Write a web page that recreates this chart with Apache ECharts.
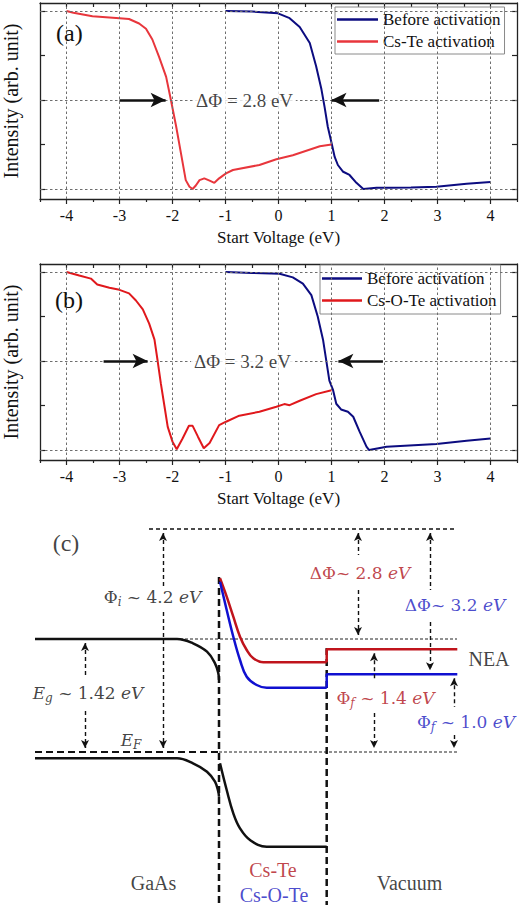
<!DOCTYPE html>
<html>
<head>
<meta charset="utf-8">
<script src="https://cdn.jsdelivr.net/npm/echarts@6/dist/echarts.min.js"></script>
<style>html,body{margin:0;padding:0;background:#fff}#c{width:520px;height:905px}</style>
</head>
<body>
<div id="c"></div>
<script>
// ---------- Panel (a) data ----------
const voltA_before = [-1.0, -0.5, -0.01, 0.21, 0.40, 0.59, 0.71, 0.81, 0.87, 0.93, 1.0, 1.06, 1.12, 1.22, 1.34, 1.47, 1.6, 1.85, 2.1, 2.5, 2.98, 3.55, 4.0];
const intA_before  = [1.0, 0.997, 0.987, 0.96, 0.91, 0.82, 0.69, 0.56, 0.46, 0.35, 0.26, 0.18, 0.135, 0.097, 0.079, 0.035, 0.0, 0.007, 0.007, 0.008, 0.013, 0.03, 0.04];
const voltA_csTe = [-4.0, -3.87, -3.51, -3.0, -2.82, -2.63, -2.5, -2.38, -2.25, -2.12, -2.03, -1.93, -1.84, -1.75, -1.68, -1.62, -1.56, -1.49, -1.40, -1.30, -1.21, -1.12, -0.99, -0.86, -0.36, -0.04, 0.27, 0.78, 1.0];
const intA_csTe  = [1.0, 0.99, 0.97, 0.96, 0.955, 0.93, 0.90, 0.84, 0.74, 0.63, 0.50, 0.35, 0.20, 0.05, 0.013, 0.0, 0.02, 0.05, 0.06, 0.047, 0.035, 0.06, 0.088, 0.107, 0.135, 0.167, 0.19, 0.24, 0.25];

// ---------- Panel (b) data ----------
const voltB_before = [-1.0, -0.5, 0.02, 0.27, 0.46, 0.62, 0.74, 0.84, 0.9, 0.96, 1.03, 1.09, 1.18, 1.31, 1.41, 1.53, 1.66, 1.71, 2.04, 2.98, 3.55, 4.0];
const intB_before  = [1.0, 0.995, 0.99, 0.97, 0.935, 0.87, 0.75, 0.62, 0.505, 0.39, 0.336, 0.26, 0.228, 0.215, 0.187, 0.103, 0.019, 0.0, 0.019, 0.034, 0.052, 0.065];
const voltB_csOTe = [-4.0, -3.76, -3.54, -3.42, -3.19, -3.0, -2.82, -2.69, -2.56, -2.44, -2.34, -2.28, -2.22, -2.15, -2.09, -2.0, -1.92, -1.81, -1.69, -1.62, -1.52, -1.41, -1.30, -1.12, -0.99, -0.74, -0.36, -0.04, 0.11, 0.21, 0.40, 0.71, 1.0];
const intB_csOTe  = [1.0, 0.98, 0.963, 0.93, 0.912, 0.90, 0.88, 0.84, 0.79, 0.71, 0.62, 0.5, 0.374, 0.243, 0.13, 0.047, 0.004, 0.065, 0.136, 0.136, 0.075, 0.01, 0.04, 0.14, 0.159, 0.193, 0.215, 0.243, 0.258, 0.252, 0.277, 0.314, 0.336];

// ---------- Axis ticks ----------
const xMajorTicks = [-4, -3, -2, -1, 0, 1, 2, 3, 4];
const xMinorTicks = [-4.5, -3.5, -2.5, -1.5, -0.5, 0.5, 1.5, 2.5, 3.5, 4.5];
const xTopTicks = [-4, -3.5, -3, -2.5, -2, -1.5, -1, -0.5, 0, 0.5, 1, 1.5, 2, 2.5, 3, 3.5, 4];
const yTicks = [0, 0.25, 0.5, 0.75, 1];
const xGridValues = [-4, -3, -2, -1, 0, 1, 2, 3, 4];
const yGridValues = [0, 0.5, 1];

// ---------- Annotations (a),(b) ----------
const deltaA = {text: 'ΔΦ = 2.8 eV', x: -0.64, y: 0.5, left: [-3.0, -2.13], right: [1.9, 1.0]};
const deltaB = {text: 'ΔΦ = 3.2 eV', x: -0.68, y: 0.5, left: [-3.3, -2.47], right: [1.97, 1.13]};

// ---------- Panel (c) band diagram (position units, energy units; E_F = 0) ----------
const cbGaAs_x = [3.5, 17.0, 17.7, 19.3, 20.7, 21.5, 21.83, 21.9];
const cbGaAs_E = [11.3, 11.3, 11.3, 10.87, 10.03, 8.87, 7.87, 7.2];
const vbGaAs_x = [3.5, 17.0, 17.7, 19.3, 20.7, 21.5, 21.83, 21.9];
const vbGaAs_E = [-0.63, -0.63, -0.63, -1.13, -1.97, -2.97, -3.97, -4.47];
const vbLayer_x = [22.0, 22.67, 23.33, 24.0, 25.0, 26.67, 32.67];
const vbLayer_E = [-1.13, -3.8, -6.13, -7.63, -8.8, -9.47, -9.47];
const csTeCurve_x = [22.0, 22.67, 23.33, 24.0, 24.67, 25.33, 26.33, 32.67];
const csTeCurve_E = [17.37, 15.53, 13.53, 11.53, 10.2, 9.37, 8.97, 8.97];
const csTeStep_x = [32.67, 32.67, 45.73];
const csTeStep_E = [8.97, 10.27, 10.27];
const csOTeCurve_x = [22.0, 22.67, 23.33, 24.0, 24.67, 25.67, 26.67, 32.67];
const csOTeCurve_E = [17.03, 14.2, 11.53, 9.2, 7.53, 6.7, 6.43, 6.43];
const csOTeStep_x = [32.67, 32.67, 45.73];
const csOTeStep_E = [6.43, 7.77, 7.77];
const vacuumLevel = {x: [14.9, 45.7], E: 22.3};
const cbRefLevel = {x: [18.0, 45.7], E: 11.3};
const fermiThick = {x: [3.5, 21.9], E: 0};
const fermiThin = {x: [21.9, 45.7], E: 0};
const interface1 = {x: 21.9, E: [17.5, -15.3]};
const interface2 = {x: 32.67, E: [10.4, -15.3]};
// arrows: x, [top seg start, top seg end], [bottom seg start, bottom seg end]
const arrowX   = [16.3, 8.5, 35.8, 43.0, 37.4, 45.4];
const arrowTop = [[21.9, 16.4], [10.9, 7.4], [21.9, 19.7], [21.9, 16.2], [9.87, 7.2], [7.37, 4.5]];
const arrowBot = [[14.0, 0.4], [4.1, 0.4], [16.2, 11.7], [13.0, 8.17], [3.9, 0.4], [1.7, 0.4]];
// labels
const labelText = [
  '{u|Φ}{s|i}{u| ~ 4.2 }{i|eV}',
  '{i|E}{s|g}{u| ~ 1.42 }{i|eV}',
  '{i|E}{s|F}',
  '{u|ΔΦ~ 2.8 }{i|eV}',
  '{u|ΔΦ~ 3.2 }{i|eV}',
  '{t|NEA}',
  '{u|Φ}{s|f}{u| ~ 1.4 }{i|eV}',
  '{u|Φ}{s|f}{u| ~ 1.0 }{i|eV}',
  '{t|GaAs}',
  '{t|Cs-Te}',
  '{t|Cs-O-Te}',
  '{t|Vacuum}',
  '{p|(c)}'
];
const labelX = [15.25, 8.8, 13.1, 36.0, 45.5, 48.9, 38.55, 46.6, 15.35, 27.3, 27.4, 40.95, 6.6];
const labelE = [15.5, 5.9, 1.2, 17.9, 14.7, 9.3, 5.4, 3.0, -13.1, -11.8, -14.3, -13.1, 20.9];
const labelColor = ['#111', '#111', '#111', '#b0141c', '#1c1cc0', '#111', '#b0141c', '#1c1cc0', '#111', '#b0141c', '#1c1cc0', '#111', '#111'];

// ---------- Styles ----------
const SERIF = "'Liberation Serif', 'Times New Roman', serif";
const MATH = "'DejaVu Serif', serif";
const NAVY = '#0c0c80';
const RED_A = '#e8363c';
const RED_B = '#e0181c';
const AX = '#222';

const zip = (xs, ys) => xs.map((v, i) => [v, ys[i]]);
const zipC = (xs, E) => xs.map((v) => [v, E]);

function panelAxes(g) {
  const line = {show: true, onZero: false, lineStyle: {color: AX, width: 1.3}};
  const xs = [
    {gridIndex: g, type: 'value', min: -4.5, max: 4.5, position: 'bottom',
     axisLine: line,
     axisTick: {show: true, inside: false, length: 5, customValues: xMajorTicks, lineStyle: {color: AX, width: 1.2}},
     axisLabel: {show: true, customValues: xMajorTicks, margin: 8, color: '#111', fontFamily: SERIF, fontSize: 16},
     splitLine: {show: false},
     name: 'Start Voltage (eV)', nameLocation: 'middle', nameGap: 30,
     nameTextStyle: {color: '#111', fontFamily: SERIF, fontSize: 17}},
    {gridIndex: g, type: 'value', min: -4.5, max: 4.5, position: 'bottom',
     axisLine: {show: false, onZero: false},
     axisTick: {show: true, inside: false, length: 3, customValues: xMinorTicks, lineStyle: {color: AX, width: 1.2}},
     axisLabel: {show: false}, splitLine: {show: false}},
    {gridIndex: g, type: 'value', min: -4.5, max: 4.5, position: 'top',
     axisLine: line,
     axisTick: {show: true, inside: true, length: 4, customValues: xTopTicks, lineStyle: {color: AX, width: 1.2}},
     axisLabel: {show: false}, splitLine: {show: false}}
  ];
  const ys = [
    {gridIndex: g, type: 'value', min: -0.056, max: 1.045, position: 'left',
     axisLine: line,
     axisTick: {show: true, inside: true, length: 5, customValues: yTicks, lineStyle: {color: AX, width: 1.2}},
     axisLabel: {show: false}, splitLine: {show: false},
     name: 'Intensity (arb. unit)', nameLocation: 'middle', nameGap: 19, nameRotate: 90,
     nameTextStyle: {color: '#111', fontFamily: SERIF, fontSize: 20}},
    {gridIndex: g, type: 'value', min: -0.056, max: 1.045, position: 'right',
     axisLine: line,
     axisTick: {show: true, inside: true, length: 5, customValues: yTicks, lineStyle: {color: AX, width: 1.2}},
     axisLabel: {show: false}, splitLine: {show: false}}
  ];
  return {xs, ys};
}

const pa = panelAxes(0), pb = panelAxes(1);

function gridSeries(xi, yi) {
  return {
    type: 'line', xAxisIndex: xi, yAxisIndex: yi, data: [], silent: true, z: 1,
    markLine: {
      silent: true, symbol: ['none', 'none'], label: {show: false}, animation: false,
      lineStyle: {color: '#6e6e6e', type: [2.5, 2.5], width: 1},
      emphasis: {disabled: true},
      data: xGridValues.map(v => ({xAxis: v})).concat(yGridValues.map(v => ({yAxis: v})))
    }
  };
}

function annotSeries(xi, yi, d) {
  return {
    type: 'scatter', xAxisIndex: xi, yAxisIndex: yi, silent: true, z: 5,
    symbolSize: 0,
    data: [{value: [d.x, d.y], label: {show: true, position: 'inside', formatter: d.text,
      color: '#111', fontFamily: SERIF, fontSize: 19, backgroundColor: '#fff', padding: [1, 3]}}],
    markLine: {
      silent: true, symbol: ['none', 'arrow'], symbolSize: [11, 15], label: {show: false},
      lineStyle: {color: '#111', width: 2.5, type: 'solid'}, animation: false,
      emphasis: {disabled: true},
      data: [
        [{coord: [d.left[0], d.y]}, {coord: [d.left[1], d.y]}],
        [{coord: [d.right[0], d.y]}, {coord: [d.right[1], d.y]}]
      ]
    }
  };
}

function curve(name, xi, yi, data, color, w) {
  return {name, type: 'line', xAxisIndex: xi, yAxisIndex: yi, data, symbol: 'none',
    showSymbol: false, smooth: false, z: 3, lineStyle: {color, width: w || 2}, itemStyle: {color}};
}

// Panel c helpers (xAxis 6, yAxis 4)
function cLine(data, color, width, type, smooth) {
  return {type: 'line', xAxisIndex: 6, yAxisIndex: 4, data, symbol: 'none', showSymbol: false,
    smooth: smooth || false, silent: true, z: 3,
    lineStyle: {color, width, type: type || 'solid'}};
}

const arrowData = [];
arrowX.forEach((x, i) => {
  arrowData.push([{coord: [x, arrowTop[i][0]], symbol: 'arrow'}, {coord: [x, arrowTop[i][1]], symbol: 'none'}]);
  arrowData.push([{coord: [x, arrowBot[i][0]], symbol: 'none'}, {coord: [x, arrowBot[i][1]], symbol: 'arrow'}]);
});

const mathRich = {
  u: {fontFamily: MATH, fontSize: 17},
  i: {fontFamily: MATH, fontSize: 17, fontStyle: 'italic'},
  s: {fontFamily: MATH, fontSize: 12, fontStyle: 'italic', padding: [10, 0, 0, 0]},
  t: {fontFamily: SERIF, fontSize: 20},
  p: {fontFamily: SERIF, fontSize: 24}
};

const labelData = labelText.map((t, i) => ({
  value: [labelX[i], labelE[i]],
  label: {show: true, position: 'inside', formatter: t, color: labelColor[i], rich: mathRich}
}));

const legendBase = {
  orient: 'vertical', itemWidth: 41, itemHeight: 2.5, itemGap: 3, icon: 'rect',
  backgroundColor: '#fff', borderColor: '#8a8a8a', borderWidth: 1, borderRadius: 0,
  textStyle: {color: '#111', fontFamily: SERIF, fontSize: 17, lineHeight: 19},
  selectedMode: false
};

const option = {
  animation: false,
  backgroundColor: '#fff',
  title: [
    {text: '(a)', left: 51, top: 16, textStyle: {fontFamily: SERIF, fontSize: 24, fontWeight: 'normal', color: '#111'}},
    {text: '(b)', left: 50, top: 283, textStyle: {fontFamily: SERIF, fontSize: 24, fontWeight: 'normal', color: '#111'}}
  ],
  legend: [
    Object.assign({}, legendBase, {left: 335, top: 7, padding: [3, 4, 3, 2],
      data: ['Before activation', 'Cs-Te activation']}),
    Object.assign({}, legendBase, {left: 320, top: 265, itemWidth: 40, padding: [4, 4, 4, 2],
      data: ['Before activation', 'Cs-O-Te activation']})
  ],
  grid: [
    {left: 40, top: 3, width: 477, height: 196, containLabel: false, outerBoundsMode: 'none'},
    {left: 40, top: 264, width: 477, height: 196, containLabel: false, outerBoundsMode: 'none'},
    {left: 0, top: 500, width: 520, height: 405, containLabel: false, outerBoundsMode: 'none'}
  ],
  xAxis: pa.xs.concat(pb.xs).concat([
    {gridIndex: 2, type: 'value', min: 0, max: 52, show: false}
  ]),
  yAxis: pa.ys.concat(pb.ys).concat([
    {gridIndex: 2, type: 'value', min: -15.3, max: 25.2, show: false}
  ]),
  series: [
    gridSeries(0, 0),
    curve('Before activation', 0, 0, zip(voltA_before, intA_before), NAVY),
    curve('Cs-Te activation', 0, 0, zip(voltA_csTe, intA_csTe), RED_A),
    annotSeries(0, 0, deltaA),

    gridSeries(3, 2),
    curve('Before activation', 3, 2, zip(voltB_before, intB_before), NAVY),
    curve('Cs-O-Te activation', 3, 2, zip(voltB_csOTe, intB_csOTe), RED_B),
    annotSeries(3, 2, deltaB),

    // Panel (c)
    cLine(zipC(vacuumLevel.x, vacuumLevel.E), '#111', 1.3, [4, 3]),
    cLine(zipC(cbRefLevel.x, cbRefLevel.E), '#222', 1, [3, 2]),
    cLine(zipC(fermiThick.x, fermiThick.E), '#111', 2, [7, 4]),
    cLine(zipC(fermiThin.x, fermiThin.E), '#222', 1, [3, 2]),
    cLine([[interface1.x, interface1.E[0]], [interface1.x, interface1.E[1]]], '#111', 2.5, [7, 4]),
    cLine([[interface2.x, interface2.E[0]], [interface2.x, interface2.E[1]]], '#111', 2.5, [7, 4]),
    cLine(zip(cbGaAs_x, cbGaAs_E), '#111', 2.5, 'solid', 0.4),
    cLine(zip(vbGaAs_x, vbGaAs_E), '#111', 2.5, 'solid', 0.4),
    cLine(zip(vbLayer_x, vbLayer_E), '#111', 2.5, 'solid', 0.4),
    cLine(zip(csTeCurve_x, csTeCurve_E), '#c0141c', 2.5, 'solid', 0.4),
    cLine(zip(csTeStep_x, csTeStep_E), '#c0141c', 2.5),
    cLine(zip(csOTeCurve_x, csOTeCurve_E), '#1010d0', 2.5, 'solid', 0.4),
    cLine(zip(csOTeStep_x, csOTeStep_E), '#1010d0', 2.5),
    {
      type: 'scatter', xAxisIndex: 6, yAxisIndex: 4, symbolSize: 0, silent: true, z: 6,
      data: labelData,
      markLine: {
        silent: true, symbolSize: [6, 8], label: {show: false}, animation: false,
        lineStyle: {color: '#111', width: 1.4, type: [4, 3]},
        emphasis: {disabled: true},
        data: arrowData
      }
    }
  ]
};

const chart = echarts.init(document.getElementById('c'), null, {renderer: 'svg'});
chart.setOption(option);
</script>
</body>
</html>
